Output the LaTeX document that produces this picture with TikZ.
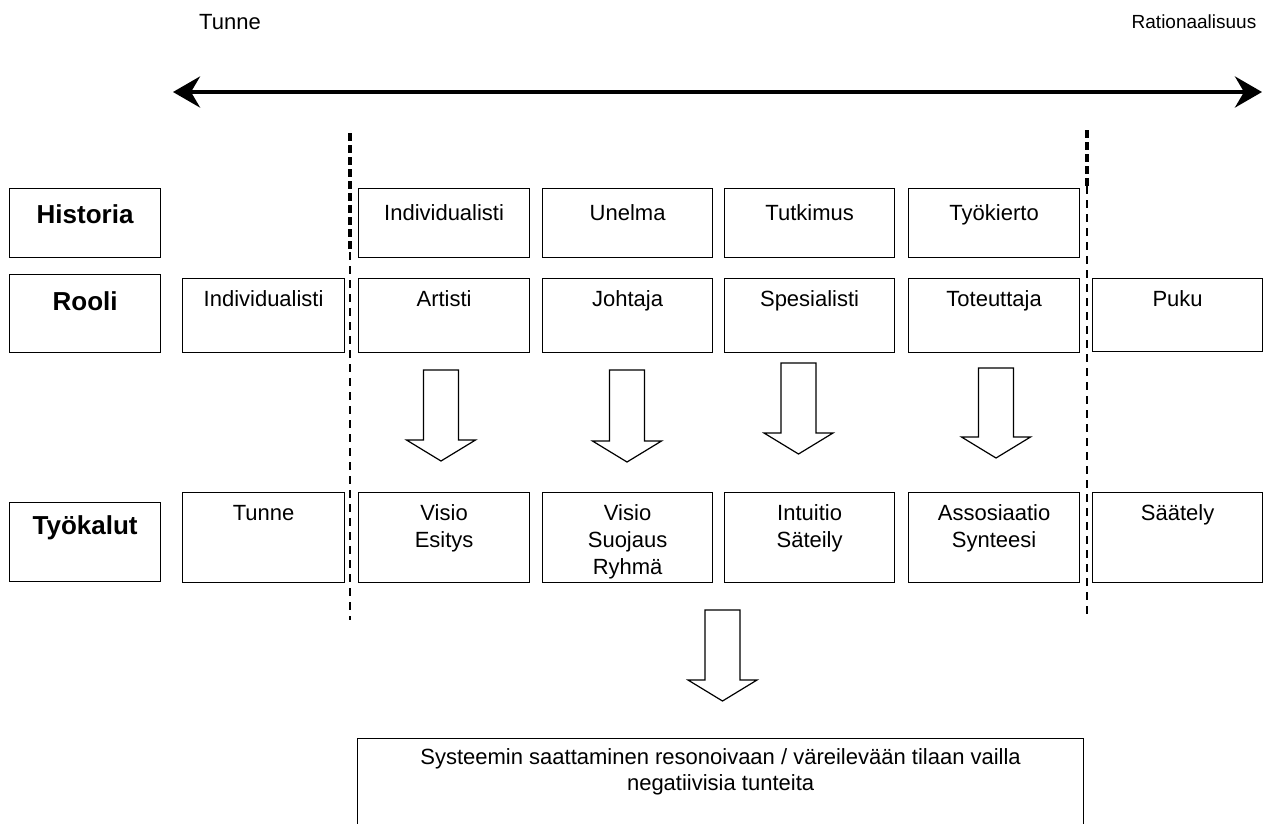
\documentclass[tikz,border=0pt]{standalone}
\usepackage{fontspec}
\setmainfont{Liberation Sans}
\usetikzlibrary{arrows.meta}
\begin{document}
\begin{tikzpicture}[x=1pt,y=-1pt,
  box/.style={draw, line width=1.2pt, rectangle, anchor=north west, inner sep=0pt},
  txt/.style={anchor=north, inner sep=0pt, align=center, font=\fontsize{22}{27}\selectfont},
  hdr/.style={anchor=north, inner sep=0pt, align=center, font=\fontsize{26}{30}\selectfont\bfseries},
  blk/.style={draw, line width=1.2pt, fill=white, line join=miter},
  thickdash/.style={line width=3.6pt, dash pattern=on 8pt off 4pt},
  thindash/.style={line width=1.3pt, dash pattern=on 8pt off 6pt}
]
\useasboundingbox (0,0) rectangle (1263,823);

% top texts and arrow
\node[txt, anchor=center] (tunne) at (230,22) {Tunne};
\node[txt, anchor=center, font=\fontsize{19}{23}\selectfont] (ratio) at (1194,22) {Rationaalisuus};
\coordinate (aL) at (173,92);
\coordinate (aR) at (1262,92);
\draw[line width=4pt, {Stealth[length=27pt,width=31pt,inset=9pt]}-{Stealth[length=27pt,width=31pt,inset=9pt]}] (aL) -- (aR);

% dashed separators
\coordinate (d1a) at (350,133); \coordinate (d1b) at (350,252); \coordinate (d1c) at (350,620);
\coordinate (d2a) at (1087,130); \coordinate (d2b) at (1087,186); \coordinate (d2c) at (1087,618);
\draw[thickdash] (d1a) -- (d1b);
\draw[thindash] (d1b) -- (d1c);
\draw[thickdash] (d2a) -- (d2b);
\draw[thindash] (d2b) -- (d2c);

% row label boxes
\node[box, minimum width=151pt, minimum height=69pt] (hL) at (9,188) {};
\node[hdr] (hLt) at ([yshift=-16pt]hL.north) {Historia};
\node[box, minimum width=151pt, minimum height=78pt] (rL) at (9,274) {};
\node[hdr] (rLt) at ([yshift=-17pt]rL.north) {Rooli};
\node[box, minimum width=151pt, minimum height=79pt] (tL) at (9,502) {};
\node[hdr] (tLt) at ([yshift=-13pt]tL.north) {Työkalut};

% Historia row
\node[box, minimum width=171pt, minimum height=69pt] (h1) at (358,188) {};
\node[box, minimum width=170pt, minimum height=69pt] (h2) at (542,188) {};
\node[box, minimum width=170pt, minimum height=69pt] (h3) at (724,188) {};
\node[box, minimum width=171pt, minimum height=69pt] (h4) at (908,188) {};
\node[txt] (h1t) at ([yshift=-16pt]h1.north) {Individualisti};
\node[txt] (h2t) at ([yshift=-16pt]h2.north) {Unelma};
\node[txt] (h3t) at ([yshift=-16pt]h3.north) {Tutkimus};
\node[txt] (h4t) at ([yshift=-16pt]h4.north) {Työkierto};

% Rooli row
\node[box, minimum width=162pt, minimum height=74pt] (r0) at (182,278) {};
\node[box, minimum width=171pt, minimum height=74pt] (r1) at (358,278) {};
\node[box, minimum width=170pt, minimum height=74pt] (r2) at (542,278) {};
\node[box, minimum width=170pt, minimum height=74pt] (r3) at (724,278) {};
\node[box, minimum width=171pt, minimum height=74pt] (r4) at (908,278) {};
\node[box, minimum width=170pt, minimum height=73pt] (r5) at (1092,278) {};
\node[txt] (r0t) at ([yshift=-12pt]r0.north) {Individualisti};
\node[txt] (r1t) at ([yshift=-12pt]r1.north) {Artisti};
\node[txt] (r2t) at ([yshift=-12pt]r2.north) {Johtaja};
\node[txt] (r3t) at ([yshift=-12pt]r3.north) {Spesialisti};
\node[txt] (r4t) at ([yshift=-12pt]r4.north) {Toteuttaja};
\node[txt] (r5t) at ([yshift=-12pt]r5.north) {Puku};

% Tools row
\node[box, minimum width=162pt, minimum height=90pt] (t0) at (182,492) {};
\node[box, minimum width=171pt, minimum height=90pt] (t1) at (358,492) {};
\node[box, minimum width=170pt, minimum height=90pt] (t2) at (542,492) {};
\node[box, minimum width=170pt, minimum height=90pt] (t3) at (724,492) {};
\node[box, minimum width=171pt, minimum height=90pt] (t4) at (908,492) {};
\node[box, minimum width=170pt, minimum height=90pt] (t5) at (1092,492) {};
\node[txt] (t0t) at ([yshift=-13pt]t0.north) {Tunne};
\node[txt] (t1t) at ([yshift=-12pt]t1.north) {Visio\\Esitys};
\node[txt] (t2t) at ([yshift=-12pt]t2.north) {Visio\\Suojaus\\Ryhmä};
\node[txt] (t3t) at ([yshift=-12pt]t3.north) {Intuitio\\Säteily};
\node[txt] (t4t) at ([yshift=-12pt]t4.north) {Assosiaatio\\Synteesi};
\node[txt] (t5t) at ([yshift=-12pt]t5.north) {Säätely};

% block arrows: center x, top y, tip y
\newcommand\blockarrow[3]{%
  \draw[blk] (#1-17.5,#2) -- (#1+17.5,#2) -- (#1+17.5,#3-21) -- (#1+34.5,#3-21)
    -- (#1,#3) -- (#1-34.5,#3-21) -- (#1-17.5,#3-21) -- cycle;}
\blockarrow{441}{370}{461}
\blockarrow{627}{370}{462}
\blockarrow{798.5}{363}{454}
\blockarrow{996}{368}{458}
\blockarrow{722.5}{610}{701}

% bottom box
\node[box, minimum width=726pt, minimum height=100pt] (res) at (357,738) {};
\node[txt, font=\fontsize{22}{26}\selectfont] (rest) at ([yshift=-10pt]res.north) {Systeemin saattaminen resonoivaan / väreilevään tilaan vailla\\negatiivisia tunteita};
\end{tikzpicture}
\end{document}
